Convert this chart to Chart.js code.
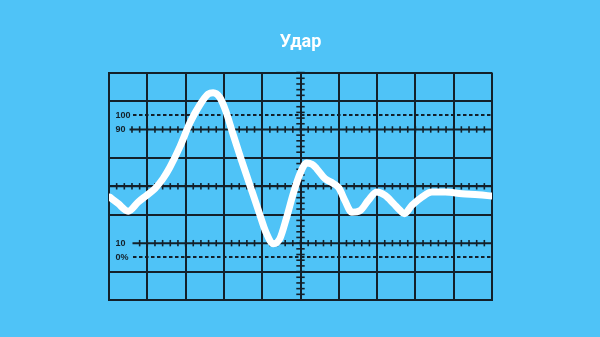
<!DOCTYPE html>
<html>
<head>
<meta charset="utf-8">
<script src="https://cdn.jsdelivr.net/npm/chart.js@4"></script>
<style>
html,body{margin:0;padding:0;background:#4fc3f7;}
canvas{display:block;}
</style>
</head>
<body>
<canvas id="c" width="600" height="337"></canvas>
<script>
// ---- data ----
const chartTitle = 'Удар';
const curveX = [0.02,0.23,0.50,0.76,0.98,1.20,1.41,1.59,1.85,2.11,2.37,2.59,2.72,2.895,3.05,3.23,3.44,3.68,3.91,4.10,4.29,4.46,4.64,4.81,4.99,5.16,5.30,5.42,5.64,5.85,6.00,6.16,6.34,6.56,6.77,6.99,7.21,7.43,7.60,7.71,7.91,8.17,8.43,8.78,9.22,9.65,10.0];
const curveY = [42.4,38,32.5,38.9,43.6,48.4,55.4,63.4,77.7,94.5,107.2,114.9,115.9,112.5,102.9,87.4,69.8,50.7,32.3,17.5,9.5,13.1,28.3,44.8,59,66.4,65.5,62.5,55.4,52.1,48.9,39.9,31.8,33,40.1,46,43.6,37.8,33,30.7,36.6,42.4,46,46,44.8,44.1,43.1];
const refLabels = ['100', '90', '10', '0%'];
const refValues = [100, 90, 10, 0];
const dashedValues = [100, 0];
const tickedValues = [90, 50, 10];
const centerX = 5;

const GRID = '#13202a';
const BG = '#4fc3f7';

const points = curveX.map((x, i) => ({x: x, y: curveY[i]}));

const scopePlugin = {
  id: 'scope',
  beforeDraw(chart) {
    const c = chart.ctx;
    c.save();
    c.fillStyle = BG;
    c.fillRect(0, 0, chart.width, chart.height);
    c.restore();
  },
  beforeDatasetsDraw(chart) {
    const c = chart.ctx;
    const xs = chart.scales.x, ys = chart.scales.y;
    const area = chart.chartArea;
    c.save();
    c.strokeStyle = GRID;
    c.fillStyle = GRID;
    // dashed reference lines
    c.lineWidth = 1.8;
    c.setLineDash([3.5, 2.5]);
    dashedValues.forEach(v => {
      const y = Math.round(ys.getPixelForValue(v));
      c.beginPath();
      c.moveTo(133, y);
      c.lineTo(area.right, y);
      c.stroke();
    });
    c.setLineDash([]);
    // ticked horizontal lines
    tickedValues.forEach(v => {
      const y = ys.getPixelForValue(v);
      const x0 = v === 50 ? area.left : (v === 90 ? 129.5 : 132.5);
      c.lineWidth = 2;
      c.beginPath();
      c.moveTo(x0, y);
      c.lineTo(area.right, y);
      c.stroke();
      c.lineWidth = 1.6;
      for (let k = 0; k <= 50; k++) {
        const x = xs.getPixelForValue(k * 0.2);
        if (x < x0 - 0.5) continue;
        c.beginPath();
        c.moveTo(x, y - 3.2);
        c.lineTo(x, y + 3.2);
        c.stroke();
      }
    });
    // center vertical ticks
    const cx = xs.getPixelForValue(centerX);
    c.lineWidth = 1.6;
    for (let k = 0; k <= 40; k++) {
      const y = ys.getPixelForValue(-30 + k * 4);
      c.beginPath();
      c.moveTo(cx - 4.2, y);
      c.lineTo(cx + 4.2, y);
      c.stroke();
    }
    // labels
    c.font = 'bold 9px "Liberation Sans", Arial, sans-serif';
    c.textAlign = 'left';
    c.textBaseline = 'middle';
    refLabels.forEach((t, i) => {
      c.fillText(t, 115.5, ys.getPixelForValue(refValues[i]) + 0.5);
    });
    c.restore();
  }
};

new Chart(document.getElementById('c'), {
  type: 'line',
  data: {
    datasets: [{
      data: points,
      borderColor: '#ffffff',
      borderWidth: 7,
      borderCapStyle: 'round',
      borderJoinStyle: 'round',
      pointRadius: 0,
      cubicInterpolationMode: 'monotone',
      fill: false
    }]
  },
  options: {
    responsive: false,
    animation: false,
    devicePixelRatio: 1,
    layout: { padding: { left: 109, right: 108, top: 0, bottom: 37 } },
    plugins: {
      legend: { display: false },
      tooltip: { enabled: false },
      title: {
        display: true,
        text: chartTitle,
        color: '#ffffff',
        font: { family: 'Roboto, "Open Sans", sans-serif', size: 18, weight: 'bold', lineHeight: 1.2 },
        padding: { top: 32, bottom: 19 }
      }
    },
    scales: {
      x: {
        type: 'linear',
        min: 0, max: 10,
        ticks: { display: false, stepSize: 1 },
        grid: { color: GRID, lineWidth: 2, drawTicks: false },
        border: { display: true, color: GRID, width: 2 }
      },
      y: {
        type: 'linear',
        min: -30, max: 130,
        ticks: { display: false, stepSize: 20 },
        grid: {
          color: ctx => (ctx.tick && (ctx.tick.value === 90 || ctx.tick.value === 10)) ? 'rgba(0,0,0,0)' : GRID,
          lineWidth: 2, drawTicks: false
        },
        border: { display: true, color: GRID, width: 2 }
      }
    }
  },
  plugins: [scopePlugin]
});
</script>
</body>
</html>
